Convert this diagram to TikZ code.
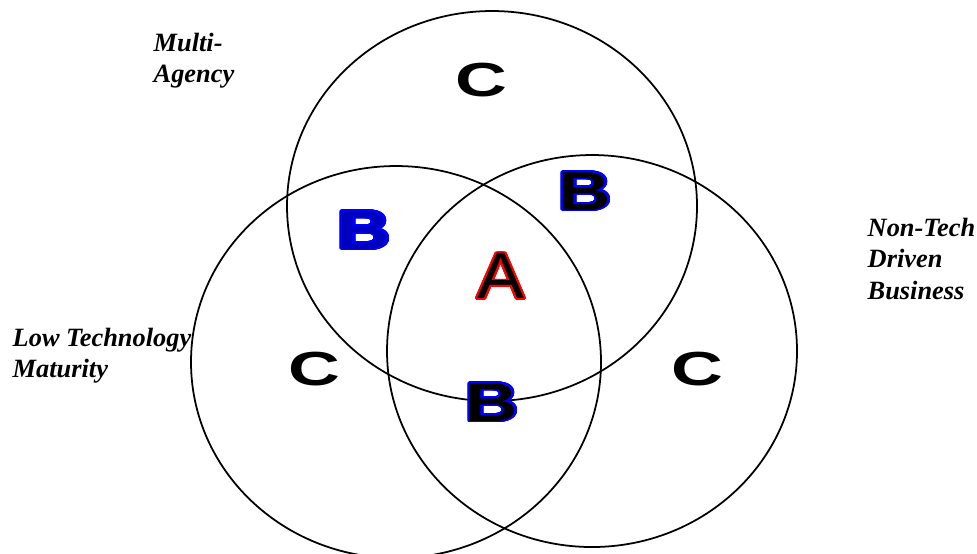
\documentclass[tikz,border=0pt]{standalone}
\usepackage{fontspec}
\setmainfont{Liberation Serif}
\newfontfamily\gradefont{Liberation Sans}
\usepackage{contour}
\contourlength{0.5pt}
\contournumber{32}

\begin{document}
\begin{tikzpicture}[x=0.01cm, y=-0.01cm,
  setring/.style={draw, line width=0.5pt},
  setname/.style={font=\fontsize{7.5}{9}\selectfont\bfseries\itshape, align=left, inner sep=0pt, anchor=north west},
  gradeb/.style={inner sep=0pt, font=\gradefont\bfseries\fontsize{15.6}{16}\selectfont, xscale=1.32},
  gradec/.style={inner sep=0pt, font=\gradefont\bfseries\fontsize{13.6}{14}\selectfont, xscale=1.5}
]
\useasboundingbox (0,0) rectangle (977,553);

% the three sets
\coordinate (multi) at (492,206);
\coordinate (lowtech) at (396,362);
\coordinate (nontech) at (592,351);
\draw[setring] (multi) ellipse [x radius=205, y radius=195];
\draw[setring] (lowtech) ellipse [x radius=205, y radius=196];
\draw[setring] (nontech) ellipse [x radius=205, y radius=196];

% set names
\node[setname] (multilbl) at (153,32) {Multi-\\Agency};
\node[setname] (lowlbl) at (12,327) {Low Technology\\Maturity};
\node[setname] (nonlbl) at (867,217) {Non-Tech\\Driven\\Business};

% grades
\node[gradec] (cmulti) at (481,80) {C};
\node[gradec] (clow) at (314,369) {C};
\node[gradec] (cnon) at (697,369) {C};
\node[gradeb, text=blue!75!black] (bleft) at (364,231) {\contour{blue}{B}};
\node[gradeb] (bright) at (585,192) {\contour{blue}{B}};
\node[gradeb] (bbottom) at (492,403) {\contour{blue}{B}};
\node[inner sep=0pt, font=\gradefont\fontsize{18.7}{20}\selectfont, xscale=1.07] (acore) at (501,277) {\contour{red}{A}};
\end{tikzpicture}
\end{document}
